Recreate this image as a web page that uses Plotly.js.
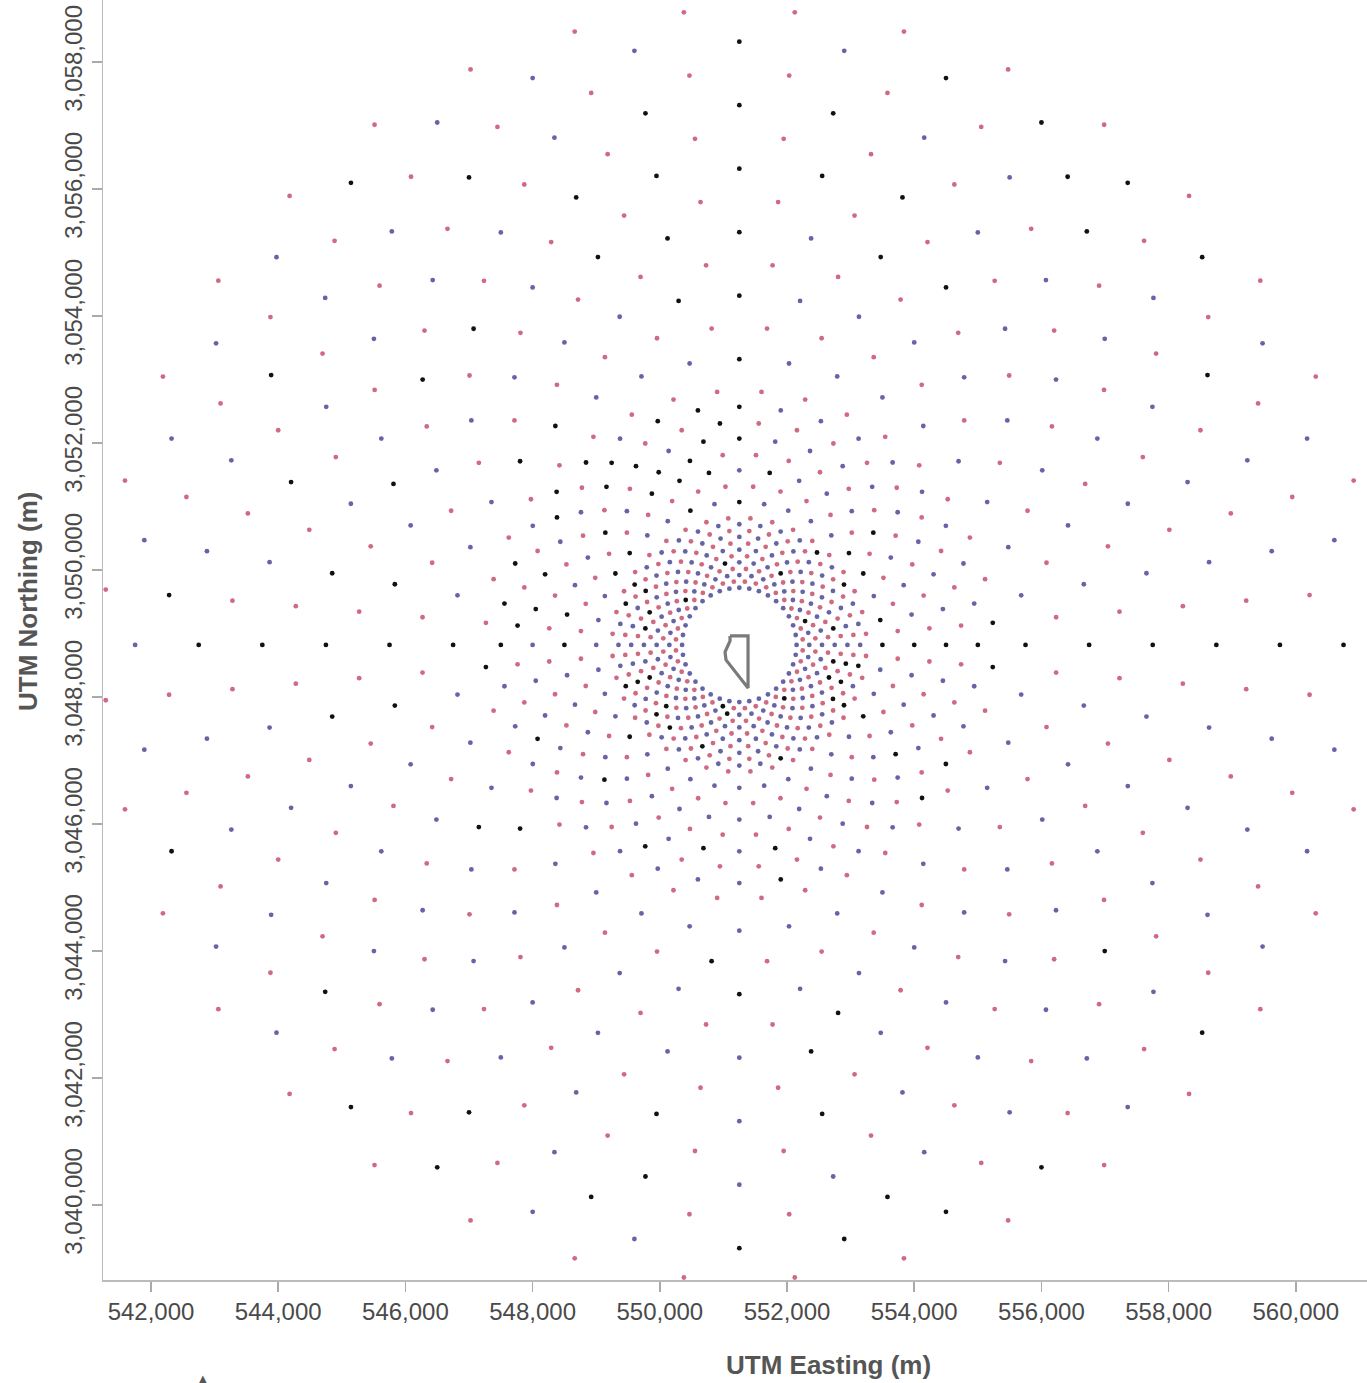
<!DOCTYPE html>
<html>
<head>
<meta charset="utf-8">
<script src="https://cdn.plot.ly/plotly-3.0.1.min.js"></script>
<style>
html,body{margin:0;padding:0;background:#ffffff;}
#chart{width:1367px;height:1383px;}
</style>
</head>
<body>
<div id="chart"></div>
<script>
// Polar receptor grid centre (UTM, m)
const centerEasting = 551250;
const centerNorthing = 3048820;

// Ring radii (km) and angular offset of each ring (deg)
const ringRadiiKm   = [0.9, 1.0, 1.1, 1.2, 1.3, 1.4, 1.5, 1.6, 1.7, 1.8, 1.9, 2.0,
                       2.25, 2.5, 2.75, 3.0, 3.25, 3.5, 3.75, 4.0,
                       4.5, 5.0, 5.5, 6.0, 6.5, 7.0, 7.5, 8.0, 8.5, 9.0, 9.5, 10.0];
const ringOffsetDeg = [0, 5, 0, 5, 0, 5, 0, 5, 0, 5, 0, 5,
                       0, 5, 0, 5, 0, 5, 0, 5,
                       0, 5, 0, 5, 0, 5, 0, 5, 0, 5, 0, 5];
// Base colour class of each ring: 'b' blue, 'r' red
const ringBaseClass = ['b','r','b','r','b','r','b','r','b','r','b','r',
                       'b','r','b','r','b','r','b','r',
                       'b','r','b','r','b','r','b','r','b','r','b','r'];
// Angles (deg, counter-clockwise from east) of the receptors drawn black on each ring
const ringBlackAngles = [
  [],                                   // 0.9
  [255],                                // 1.0
  [20,140,260,310],                     // 1.1
  [],                                   // 1.2
  [60,100],                             // 1.3
  [],                                   // 1.4
  [10,160,170,200,220,340,350],         // 1.5
  [],                                   // 1.6
  [150,200,220,230,250,330,340,350],    // 1.7
  [],                                   // 1.8
  [30,50,150,160,200,290,330,350],      // 1.9
  [],                                   // 2.0
  [0,10,30,40,90,110,140,150,220,330],  // 2.25
  [],                                   // 2.5
  [0,40,80,100,110,120,140,170,180],    // 2.75
  [105,115,225,325],                    // 3.0
  [0,90,100,120,130,160,170,260,280],   // 3.25
  [95,125,145,175,205,245],             // 3.5
  [0,90,100,110,130,140,160,170,180,280,320,330], // 3.75
  [5,185,355],                          // 4.0
  [0,90,130,140,180,220],               // 4.5
  [215,265],                            // 5.0
  [0,90,100,170,180,190,270],           // 5.5
  [155,285],                            // 6.0
  [0,60,70,90,100,110,130,140,170,180,190,280], // 6.5
  [],                                   // 7.0
  [0,70,80,90,100,110,160,180,260,280,320],     // 7.5
  [],                                   // 8.0
  [0,30,50,80,90,100,120,150,180,220,240,260],  // 8.5
  [55,175,255,285],                     // 9.0
  [0,40,50,60,70,90,130,200,230,240,270,280,290,300,320], // 9.5
  []                                    // 10.0
];
// Base angles of the 36 radials (deg)
const radialAnglesDeg = [0,10,20,30,40,50,60,70,80,90,100,110,120,130,140,150,160,170,
                         180,190,200,210,220,230,240,250,260,270,280,290,300,310,320,330,340,350];

// Source boundary polygon (UTM, m)
const sourceEasting  = [551104, 551387, 551387, 551119, 551041, 551025, 551072, 551104, 551104];
const sourceNorthing = [3048961, 3048961, 3048142, 3048488, 3048583, 3048709, 3048803, 3048882, 3048961];

// Axis ticks
const xTickVals = [542000, 544000, 546000, 548000, 550000, 552000, 554000, 556000, 558000, 560000];
const yTickVals = [3040000, 3042000, 3044000, 3046000, 3048000, 3050000, 3052000, 3054000, 3056000, 3058000];

const pts = {r:{x:[],y:[]}, b:{x:[],y:[]}, k:{x:[],y:[]}};
ringRadiiKm.forEach((rk, i) => {
  const off = ringOffsetDeg[i];
  radialAnglesDeg.forEach(a0 => {
    const a = a0 + off;
    const cls = ringBlackAngles[i].indexOf(a) >= 0 ? 'k' : ringBaseClass[i];
    const rad = a * Math.PI / 180;
    pts[cls].x.push(centerEasting + rk * 1000 * Math.cos(rad));
    pts[cls].y.push(centerNorthing + rk * 1000 * Math.sin(rad));
  });
});

const mk = (c) => ({size: 4.8, color: c, line: {width: 0}});
const traces = [
  {type:'scatter', mode:'markers', x:pts.r.x, y:pts.r.y, marker:mk('#d06a80'), cliponaxis:false, hoverinfo:'skip'},
  {type:'scatter', mode:'markers', x:pts.b.x, y:pts.b.y, marker:mk('#6464a6'), cliponaxis:false, hoverinfo:'skip'},
  {type:'scatter', mode:'markers', x:pts.k.x, y:pts.k.y, marker:mk('#111111'), cliponaxis:false, hoverinfo:'skip'},
  {type:'scatter', mode:'lines', x:sourceEasting, y:sourceNorthing, line:{color:'#7a7a7a', width:3.2}, hoverinfo:'skip'}
];

const tickFont = {family:'"Liberation Sans", Arial, sans-serif', size:24, color:'#4a4a4a'};
const titleFont = {family:'"Liberation Sans", Arial, sans-serif', size:26, color:'#555555', weight:'bold'};

const layout = {
  width:1367, height:1383,
  margin:{l:103, r:0, t:0, b:103},
  paper_bgcolor:'#ffffff', plot_bgcolor:'#ffffff',
  showlegend:false,
  xaxis:{
    range:[541245, 561119], tickvals:xTickVals, tickformat:',d',
    ticks:'outside', ticklen:10, tickwidth:1.5, tickcolor:'#aaaaaa',
    showline:true, linecolor:'#bbbbbb', linewidth:1.5,
    showgrid:false, zeroline:false, tickfont:tickFont
  },
  yaxis:{
    range:[3038819, 3058976], tickvals:yTickVals, tickformat:',d', tickangle:-90,
    ticks:'outside', ticklen:10, tickwidth:1.5, tickcolor:'#aaaaaa',
    showline:true, linecolor:'#bbbbbb', linewidth:1.5,
    showgrid:false, zeroline:false, tickfont:tickFont
  },
  annotations:[
    {text:'<b>UTM Easting (m)</b>', xref:'paper', yref:'paper', x:0.5736, y:-0.0664,
     xanchor:'center', yanchor:'middle', showarrow:false, font:titleFont},
    {text:'<b>UTM Northing (m)</b>', xref:'paper', yref:'paper', x:-0.0593, y:0.5305,
     xanchor:'center', yanchor:'middle', textangle:-90, showarrow:false, font:titleFont},
    {text:'▲', xref:'paper', yref:'paper', x:0.079, y:-0.0766,
     xanchor:'center', yanchor:'middle', showarrow:false,
     font:{family:'"DejaVu Sans", sans-serif', size:10, color:'#555555'}}
  ]
};

Plotly.newPlot('chart', traces, layout, {displayModeBar:false, staticPlot:true});
</script>
</body>
</html>
